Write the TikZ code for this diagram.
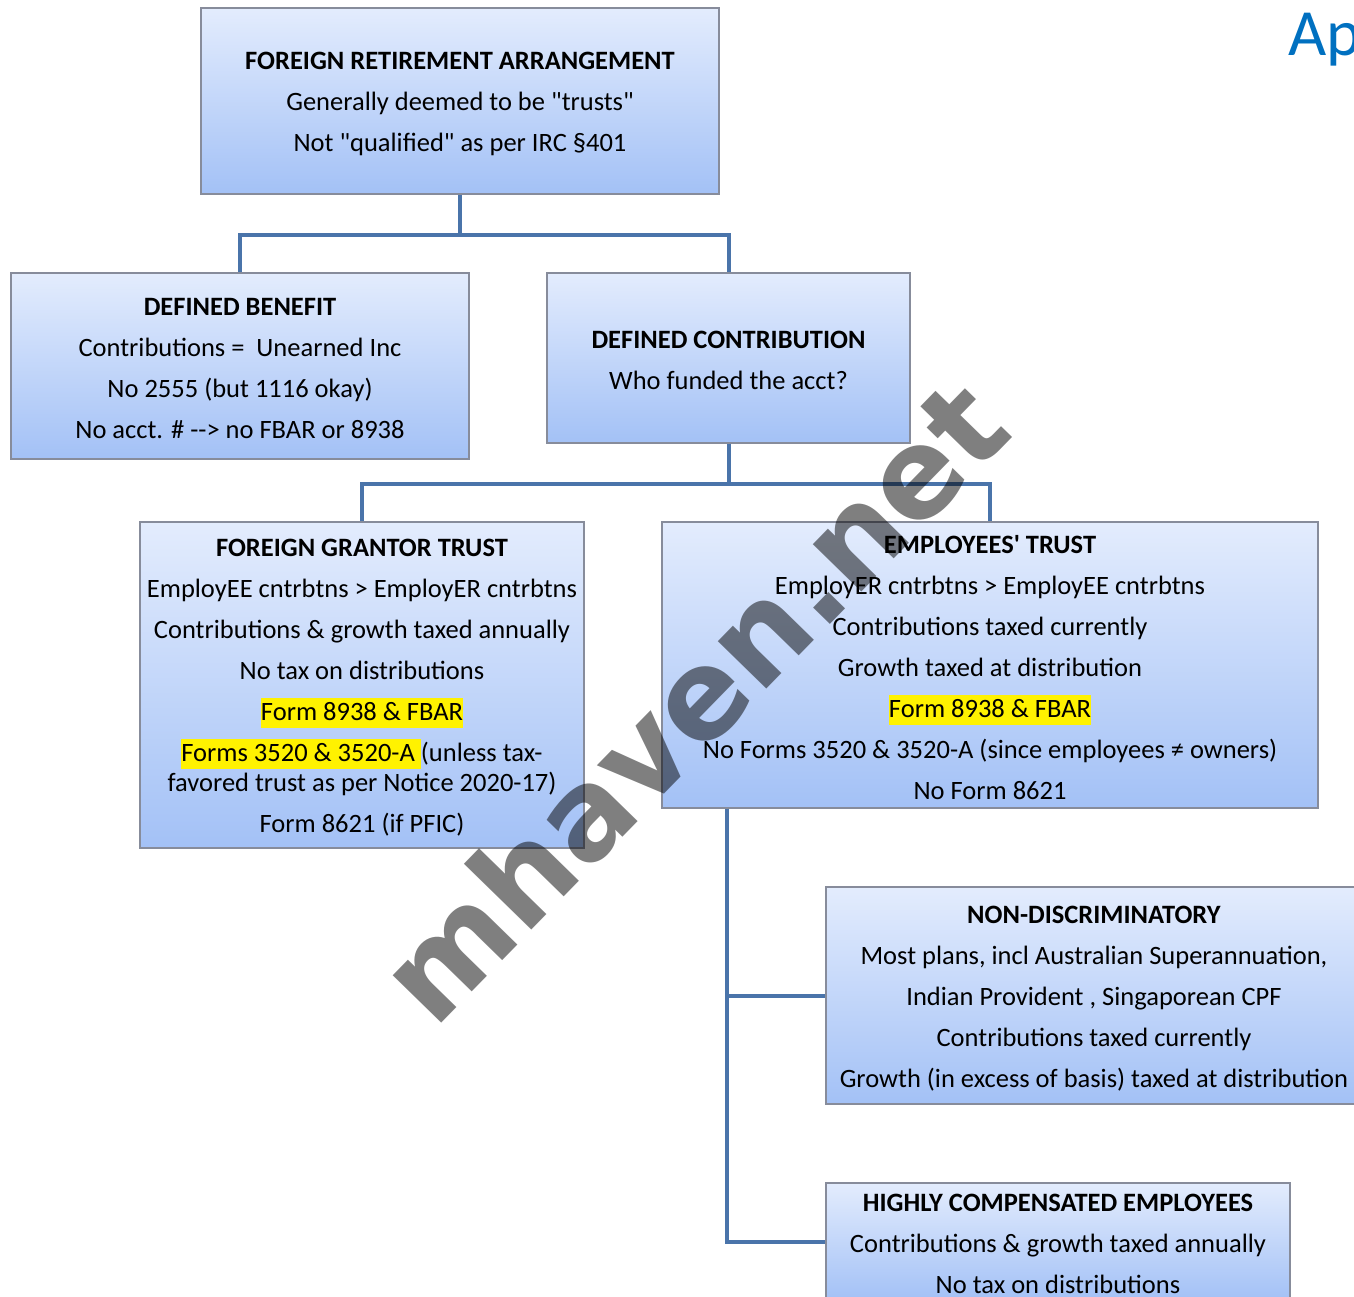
\documentclass[tikz,border=0pt]{standalone}
\usepackage{fontspec}
\setmainfont{Carlito}
\newfontfamily\wmfont{DejaVu Sans}
\usepackage{xcolor}
\usepackage{tikz}
\usetikzlibrary{positioning}

\definecolor{boxtop}{RGB}{227,236,253}
\definecolor{boxbot}{RGB}{163,193,246}
\definecolor{boxline}{RGB}{135,140,155}
\definecolor{linkblue}{RGB}{74,116,170}
\definecolor{apblue}{RGB}{0,112,192}
\newcommand{\hilite}[1]{{\setlength{\fboxsep}{0pt}\colorbox{yellow}{\rule[-7.5pt]{0pt}{30pt}#1}}}
\newcommand{\qq}[1]{\textquotedbl#1\textquotedbl}
\newcommand{\boxhead}[1]{\rule{0pt}{23pt}\textbf{#1}}

\tikzset{
  planbox/.style={draw=boxline, line width=1.2pt, top color=boxtop, bottom color=boxbot,
    align=center, inner sep=0pt, font=\fontsize{26.5}{41}\selectfont},
  link/.style={draw=linkblue, line width=4pt}
}

\begin{document}
\begin{tikzpicture}[x=1pt,y=1pt,yscale=-1,xscale=1]
\useasboundingbox (0,0) rectangle (1354,1296);

%Shape: Rectangle [fra]
\node [planbox, minimum width=518pt, minimum height=186pt] (fra) at (460,101)
  {\boxhead{FOREIGN RETIREMENT ARRANGEMENT}\\Generally deemed to be \qq{trusts}\\Not \qq{qualified} as per IRC §401};
%Shape: Rectangle [db]
\node [planbox, minimum width=458pt, minimum height=186pt] (db) at (240,366)
  {\boxhead{DEFINED BENEFIT}\\Contributions =\ \ Unearned Inc\\No 2555 (but 1116 okay)\\No acct. \# -{}-{}> no FBAR or 8938};
%Shape: Rectangle [dc]
\node [planbox, minimum width=363pt, minimum height=170pt] (dc) at (728.5,358)
  {\boxhead{DEFINED CONTRIBUTION}\\Who funded the acct?};
%Shape: Rectangle [fgt]
\node [planbox, minimum width=444pt, minimum height=326pt] (fgt) at (362,685)
  {\boxhead{FOREIGN GRANTOR TRUST}\\EmployEE cntrbtns > EmployER cntrbtns\\Contributions \& growth taxed annually\\No tax on distributions\\\hilite{Form 8938 \& FBAR}\\\hilite{Forms 3520 \& 3520-A }(unless tax-\\[-11pt]favored trust as per Notice 2020-17)\\Form 8621 (if PFIC)};
%Shape: Rectangle [et]
\node [planbox, minimum width=656pt, minimum height=286pt] (et) at (990,665)
  {\boxhead{EMPLOYEES\textquotesingle\ TRUST}\\EmployER cntrbtns > EmployEE cntrbtns\\Contributions taxed currently\\Growth taxed at distribution\\\hilite{Form 8938 \& FBAR}\\No Forms 3520 \& 3520-A (since employees ≠ owners)\\No Form 8621};
%Shape: Rectangle [nd]
\node [planbox, minimum width=536pt, minimum height=217pt] (nd) at (1094,995.5)
  {\boxhead{NON-DISCRIMINATORY}\\Most plans, incl Australian Superannuation,\\Indian Provident , Singaporean CPF\\Contributions taxed currently\\Growth (in excess of basis) taxed at distribution};
%Shape: Rectangle [hce]
\node [planbox, minimum width=464pt, minimum height=117pt] (hce) at (1058,1241.5)
  {\boxhead{HIGHLY COMPENSATED EMPLOYEES}\\Contributions \& growth taxed annually\\No tax on distributions};

%Shape: Connectors
\draw [link] (fra.south) -- ++(0,40) -| (db.north);
\draw [link] (fra.south) ++(0,40) -| (dc.north);
\draw [link] (dc.south) -- ++(0,40) -| (fgt.north);
\draw [link] (dc.south) ++(0,40) -| (et.north);
\coordinate (etdrop) at ([xshift=66pt]et.south west);
\draw [link] (etdrop) |- (nd.west);
\draw [link] (etdrop) |- (hce.west);

% Text Node
\node [anchor=west, inner sep=0pt, text=apblue, font=\fontsize{66}{66}\selectfont] (ap) at (1288,40) {Ap};
% Text Node
\node [rotate=45.7, opacity=0.5, text=black, inner sep=0pt, font=\wmfont\bfseries\fontsize{124}{124}\selectfont] (mark) at (692,700) {mhaven.net};

\end{tikzpicture}
\end{document}
